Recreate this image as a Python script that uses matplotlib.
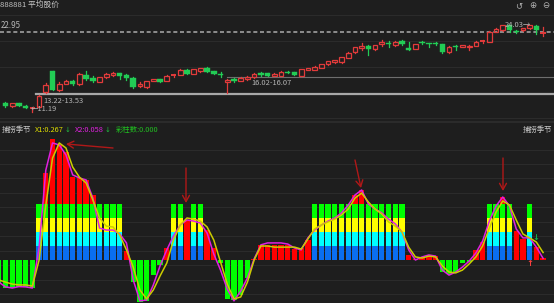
import matplotlib
matplotlib.use('Agg')
import matplotlib.pyplot as plt
from matplotlib.patches import Rectangle

plt.rcParams['font.family'] = ['Noto Sans CJK SC', 'DejaVu Sans']

W, H = 554, 303
BG = '#1e1e1e'
RED = '#e23b3b'
GRN = '#22cc55'

title = '888881 平均股价'
indicator = '捕捞季节'

# ---- candles (index 0..80) ----
opens = [12.60, 12.12, 12.51, 12.12, 11.82, 11.93, 14.22, 17.26, 14.47, 15.35, 15.84, 15.31, 16.67, 16.19, 15.69, 16.34,
         16.67, 16.92, 16.67, 16.28, 15.06, 14.87, 15.79, 16.09, 15.79, 16.53, 16.67, 17.41, 16.82, 17.31, 17.70, 17.26,
         16.82, 15.69, 16.09, 15.79, 16.04, 16.34, 16.92, 16.92, 16.57, 16.57, 17.16, 17.07, 16.53, 17.41, 17.41, 17.75,
         18.24, 18.58, 18.54, 19.22, 20.01, 20.60, 20.98, 20.45, 21.30, 21.38, 21.08, 21.72, 20.60, 20.54, 21.48, 21.33,
         21.43, 21.23, 20.01, 20.98, 20.84, 20.74, 20.94, 21.52, 21.57, 23.04, 23.29, 23.95, 23.19, 23.29, 23.54, 23.88,
         22.80]
closes = [12.12, 12.51, 12.12, 11.87, 11.90, 13.62, 15.20, 14.47, 15.35, 15.84, 15.31, 16.82, 16.04, 15.84, 16.34, 16.82,
          16.92, 16.53, 16.19, 14.87, 15.35, 15.79, 16.09, 15.64, 16.53, 16.72, 17.41, 16.82, 17.51, 17.66, 17.16, 16.82,
          16.63, 15.94, 15.79, 16.28, 16.43, 16.82, 16.67, 16.57, 16.82, 17.16, 16.92, 16.67, 17.51, 17.66, 17.90, 18.29,
          18.73, 18.88, 19.27, 19.95, 20.75, 20.94, 20.45, 21.08, 21.52, 21.23, 21.57, 21.23, 20.35, 21.23, 21.33, 21.18,
          21.23, 20.01, 20.84, 20.74, 21.08, 20.98, 21.57, 21.72, 23.04, 23.44, 23.95, 23.29, 22.95, 23.54, 23.98, 23.29,
          22.95]
highs = [12.75, 12.60, 12.60, 12.20, 12.00, 13.70, 15.45, 17.30, 15.69, 15.90, 15.90, 16.92, 17.31, 16.53, 16.40, 16.90,
         17.16, 17.00, 16.75, 16.35, 15.69, 15.85, 16.15, 16.15, 16.60, 16.80, 17.50, 17.50, 17.60, 17.75, 17.80, 17.30,
         17.07, 16.04, 16.20, 16.35, 16.50, 16.90, 17.16, 17.00, 16.90, 17.20, 17.20, 17.10, 17.55, 17.75, 17.95, 18.35,
         18.80, 18.95, 19.35, 20.00, 20.80, 21.33, 21.05, 21.15, 21.82, 21.72, 21.65, 21.80, 21.48, 21.30, 21.63, 21.40,
         21.50, 21.30, 20.90, 21.05, 21.15, 21.05, 21.65, 21.80, 23.10, 23.54, 24.00, 24.00, 23.25, 23.60, 24.03, 23.95,
         23.77]
lows = [12.00, 12.00, 12.05, 11.82, 11.19, 11.90, 13.98, 14.40, 14.37, 15.30, 15.25, 15.25, 15.98, 15.69, 15.60, 16.30,
        16.53, 16.04, 15.94, 14.80, 14.87, 14.80, 15.75, 15.60, 15.75, 16.45, 16.60, 16.75, 16.75, 17.11, 17.10, 16.75,
        16.42, 14.07, 15.70, 15.75, 16.00, 16.30, 16.53, 16.50, 16.50, 16.50, 16.90, 16.60, 16.50, 17.35, 17.35, 17.70,
        18.20, 18.50, 18.50, 19.15, 19.95, 20.35, 19.61, 20.40, 20.98, 20.84, 21.00, 21.15, 20.30, 20.50, 21.23, 20.84,
        21.15, 19.95, 19.95, 20.35, 20.80, 20.35, 20.90, 21.45, 21.50, 23.00, 23.20, 23.04, 22.80, 23.20, 23.50, 22.65,
        22.41]

last_price = 22.95
gap_low_label = '13.22-13.53'
gap_mid_label = '16.02-16.07'
low_label = '←11.19'
high_label = '24.03→'
gap_low_level = 13.81
gap_mid_level = 16.38

# ---- indicator (index -1..80) ----
hist = [-0.82, -1.00, -1.00, -0.96, -0.96, -1.00, 0.46, 3.11, 4.32, 4.11, 3.86, 2.96, 2.93, 2.86, 2.32, 1.15,
        1.07, 1.07, 0.93, 0.32, -0.78, -1.49, -1.45, -0.54, -0.18, 0.43, 0.86, 1.25, 1.43, 1.39, 1.32, 1.07,
        0.43, -0.11, -1.39, -1.43, -1.25, -0.64, 0.05, 0.54, 0.54, 0.54, 0.54, 0.54, 0.38, 0.43, 0.71, 1.04,
        1.25, 1.36, 1.50, 1.64, 1.96, 2.32, 2.50, 1.95, 1.89, 1.70, 1.50, 1.29, 1.00, 0.18, 0.02, 0.11,
        0.14, 0.14, -0.42, -0.50, -0.43, -0.12, -0.07, 0.34, 0.64, 1.36, 1.93, 2.25, 1.90, 1.05, 0.75, 0.80,
        0.46, 0.07]
color_flag = [0, 0, 0, 0, 0, 0,
              1, 1, 1, 1, 1, 1, 1, 1, 1, 1, 1, 1, 1,
              0, 0, 0, 0, 0, 0, 0,
              1, 1, 0, 1, 1,
              0, 0, 0, 0, 0, 0, 0, 0, 0, 0, 0, 0, 0, 0, 0, 0,
              1, 1, 1, 1, 1, 1, 1, 1, 1, 1, 1, 1, 1, 1,
              0, 0, 0, 0, 0, 0, 0, 0, 0, 0, 0, 0,
              1, 1, 1, 1,
              0, 0, 1, 0, 0]
x1 = [-0.71, -0.79, -0.86, -0.89, -0.89, -0.93, 0.00, 1.96, 3.64, 4.18, 4.00, 3.32, 2.96, 2.75, 2.14, 1.50,
      1.21, 1.18, 0.89, 0.36, -0.25, -1.07, -1.39, -1.07, -0.57, -0.11, 0.71, 1.25, 1.50, 1.46, 1.39, 1.18,
      0.71, -0.07, -0.86, -1.39, -1.32, -0.79, 0.00, 0.50, 0.50, 0.46, 0.46, 0.46, 0.46, 0.39, 0.75, 1.11,
      1.25, 1.36, 1.46, 1.61, 1.82, 2.21, 2.39, 2.07, 1.82, 1.64, 1.36, 1.21, 1.00, 0.46, 0.11, 0.07,
      0.14, 0.11, -0.21, -0.43, -0.46, -0.36, -0.14, 0.11, 0.50, 1.14, 1.71, 2.11, 1.96, 1.43, 0.93, 0.79,
      0.64, 0.267]
x2 = [-0.79, -0.96, -1.00, -0.95, -0.96, -1.00, 0.46, 3.21, 4.18, 4.11, 3.75, 3.04, 2.93, 2.86, 2.21, 1.14,
      1.07, 1.07, 0.93, 0.61, -0.71, -1.46, -1.43, -0.89, -0.21, 0.36, 0.86, 1.25, 1.43, 1.39, 1.32, 0.96,
      0.21, -0.36, -1.04, -1.46, -1.11, -0.64, 0.04, 0.54, 0.61, 0.61, 0.61, 0.57, 0.43, 0.36, 0.79, 1.07,
      1.25, 1.39, 1.50, 1.68, 1.96, 2.32, 2.50, 2.00, 1.82, 1.68, 1.46, 1.29, 1.00, 0.36, 0.00, 0.11,
      0.18, 0.14, -0.36, -0.54, -0.43, -0.25, -0.04, 0.25, 0.68, 1.39, 1.93, 2.25, 1.93, 1.11, 0.79, 0.79,
      0.46, 0.058]
band_colors = ['#0a6ef0', '#00ffff', '#ffff00', '#00ff00']
band_size = 0.5
x1_label = 'X1:0.267'
x2_label = 'X2:0.058'
count_label = '彩柱数:0.000'

# ---- layout ----
fig = plt.figure(figsize=(W / 100, H / 100), dpi=100, facecolor=BG)
SPLIT = 121.0
ax1 = fig.add_axes([0, 1 - SPLIT / H, 1, SPLIT / H])
ax2 = fig.add_axes([0, 0, 1, 1 - SPLIT / H])
for ax in (ax1, ax2):
    ax.set_facecolor(BG)
    ax.set_axis_off()
    ax.set_xlim((0 - 5.5) / 6.72, (W - 5.5) / 6.72)

# price scale: y_px = (27.698 - price) / 0.147
ax1.set_ylim(27.698 - 0.147 * SPLIT, 27.698)
# indicator scale: y_px = 260 - 28 * value
ax2.set_ylim((260 - H) / 28.0, (260 - SPLIT) / 28.0)


def F(x, y):
    return (x / W, 1 - y / H)


# grid lines
for p in [25.49, 21.60, 17.85, 10.35]:
    ax1.axhline(p, color='#2b2b2b', lw=0.8, zorder=0)
for v in [3.93, 3.43, 2.93, 2.39, 1.89, 1.36, 0.86, 0.32, -0.18, -0.71, -1.21]:
    ax2.axhline(v, color='#2b2b2b', lw=0.8, zorder=0)
fig.add_artist(plt.Line2D([0, 1], [1 - 121.5 / H] * 2, color='#2e2e2e', lw=1.2))

# reference lines
ax1.axhline(last_price, color='#a0a0a0', lw=1.2, dashes=(2.4, 1.6), zorder=1)
ax1.plot([4.5, 82], [gap_low_level] * 2, color='#a8a8a8', lw=1.6, zorder=1)
ax1.plot([32.9, 82], [gap_mid_level] * 2, color='#6e6e6e', lw=0.8, zorder=1)

# candles
bw = 0.8
for i, (o, h, l, c) in enumerate(zip(opens, highs, lows, closes)):
    if c >= o:
        col = RED
        top, bot = c, o
        ax1.plot([i, i], [top, h], color=col, lw=0.9, zorder=2)
        ax1.plot([i, i], [l, bot], color=col, lw=0.9, zorder=2)
        if top - bot < 0.2:
            ax1.plot([i - bw / 2, i + bw / 2], [(top + bot) / 2] * 2, color=col, lw=1.4, zorder=3,
                     solid_capstyle='butt')
        else:
            ax1.add_patch(Rectangle((i - bw / 2 + 0.05, bot), bw - 0.1, top - bot, fill=False,
                                    edgecolor=col, lw=0.9, zorder=3))
    else:
        col = GRN
        ax1.plot([i, i], [l, h], color=col, lw=0.9, zorder=2)
        hgt = max(o - c, 0.15)
        ax1.add_patch(Rectangle((i - bw / 2, c), bw, hgt, facecolor=col, edgecolor=col, lw=0.3, zorder=3))

# indicator bars
idx = list(range(-1, 81))
bar_w = 0.79
reds = [max(v, 0) for v in hist]
greens = [min(v, 0) for v in hist]
ax2.bar(idx, reds, width=bar_w, color='#ff0000', zorder=2, linewidth=0)
ax2.bar(idx, greens, width=bar_w, color='#00ff00', zorder=2, linewidth=0)
for k, col in enumerate(band_colors):
    heights = [band_size if f else 0 for f in color_flag]
    bottoms = [band_size * k] * len(idx)
    ax2.bar(idx, heights, bottom=bottoms, width=bar_w, color=col, zorder=3, linewidth=0)

ax2.plot(idx, x2, color='#e020e0', lw=1.1, zorder=4)
ax2.plot(idx, x1, color='#cccc00', lw=1.1, zorder=5)

# hand-drawn arrows
ac = '#b01818'
for tail, head in [((113, 148), (66, 144)), ((186, 168), (186, 203)),
                   ((355, 160), (361, 188)), ((503, 158), (503, 191))]:
    ax2.annotate('', xy=F(*head), xytext=F(*tail), xycoords='figure fraction',
                 textcoords='figure fraction', annotation_clip=False,
                 arrowprops=dict(arrowstyle='->,head_length=0.45,head_width=0.25', color=ac, lw=1.0,
                                 shrinkA=0, shrinkB=0), zorder=6)

fig.text(*F(535.5, 238), '↓', color='#10b050', fontsize=6, fontweight='bold', ha='center', va='center',
         family=['DejaVu Sans'])
fig.text(*F(529.5, 264), '↑', color='#ff4040', fontsize=6, fontweight='bold', ha='center', va='center',
         family=['DejaVu Sans'])

# texts
GRAY = '#b4b4b4'
fig.text(*F(0.5, 4.5), title, color='#c8c8c8', fontsize=5.6, ha='left', va='center')
fig.text(*F(0.5, 26), f'{last_price:.2f}', color=GRAY, fontsize=5.8, ha='left', va='center')
fig.text(*F(43, 100.5), gap_low_label, color=GRAY, fontsize=5.4, ha='left', va='center')
fig.text(*F(31, 109), low_label, color=GRAY, fontsize=5.4, ha='left', va='center')
fig.text(*F(251.5, 83), gap_mid_label, color=GRAY, fontsize=5.4, ha='left', va='center')
fig.text(*F(505, 25), high_label, color=GRAY, fontsize=5.4, ha='left', va='center')
for xx, s in [(519, '↺'), (532.5, '⊕'), (545.5, '⊖')]:
    fig.text(*F(xx, 5.5), s, color='#b0b0b0', fontsize=6.2, ha='center', va='center', family=['DejaVu Sans'])

yh = 129.5
fig.text(*F(1.7, yh), indicator, color='#c8c8c8', fontsize=5.3, ha='left', va='center')
fig.text(*F(35, yh), x1_label, color='#dddd00', fontsize=5.3, ha='left', va='center')
fig.text(*F(67.5, yh), '↓', color='#20c040', fontsize=5, ha='center', va='center', family=['DejaVu Sans'])
fig.text(*F(75, yh), x2_label, color='#e020e0', fontsize=5.3, ha='left', va='center')
fig.text(*F(107.5, yh), '↓', color='#20c040', fontsize=5, ha='center', va='center', family=['DejaVu Sans'])
fig.text(*F(116, yh), count_label, color='#20c020', fontsize=5.3, ha='left', va='center')
fig.text(*F(552, yh), indicator, color='#c8c8c8', fontsize=5.3, ha='right', va='center')

fig.savefig('out.png', dpi=100, facecolor=BG)
